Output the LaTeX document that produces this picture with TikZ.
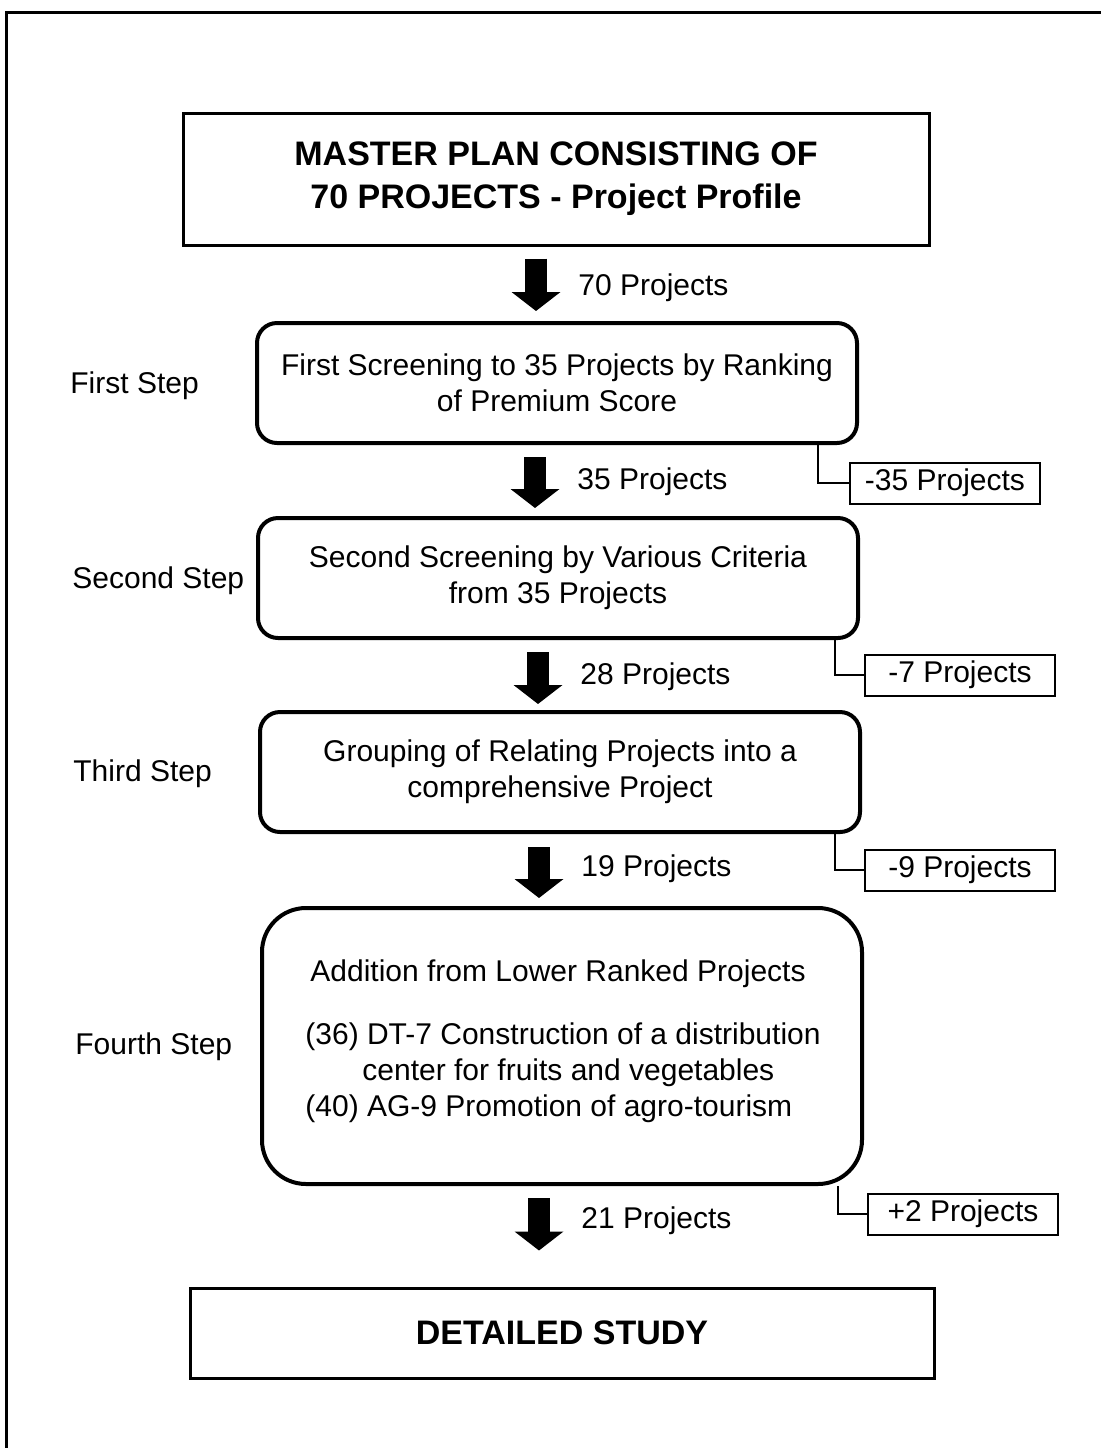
\documentclass[tikz,border=0pt]{standalone}
\usepackage{fontspec}
\setmainfont{Liberation Sans}
\usetikzlibrary{arrows.meta}

\begin{document}
\begin{tikzpicture}[x=0.5pt, y=-0.5pt, anchor=center, font=\fontsize{15}{18}\selectfont,
	cadre/.style={draw, line width=1.5pt, inner sep=0pt, align=center,
		font=\fontsize{17}{21.5}\selectfont\bfseries},
	etape/.style={draw, line width=2pt, rounded corners=10pt, inner sep=0pt,
		align=center, minimum width=300pt, minimum height=60pt},
	etiq/.style={draw, line width=1pt, inner sep=0pt, minimum width=95pt, minimum height=20.5pt},
	lien/.style={line width=1pt},
	grosse/.style={line width=11pt, -{Triangle[length=9.5pt, width=24pt]}}]

		\useasboundingbox (0,0) rectangle (1101,1448);

		\newcommand{\mkfleche}[7]{
			%fleche epaisse + nombre de projets
			\coordinate (f#3) at (#4,0);
			\draw[grosse, shorten <=#5pt, shorten >=#6pt] (#1.south -| f#3) -- (#2.north -| f#3);
			\node[anchor=west, inner sep=0pt] (f#3n) at (#4+42,#7) {#3 Projects};
		}

		\newcommand{\mkretrait}[6]{
			%etiquette de retrait
			\node[etiq] (#1) at (#4,#5) {#6};
			\coordinate (#1x) at (#3,0);
			\draw[lien] (#2.south -| #1x) |- (#1.west);
		}

		%cadre
		\draw[line width=1.5pt] (6,1448) -- (6,12) -- (1101,12);

		%boites
		\node[cadre, minimum width=373pt, minimum height=66pt] (plan) at (556,179)
			{MASTER PLAN CONSISTING OF\\70 PROJECTS - Project Profile};
		\node[etape] (e1) at (557,383) {First Screening to 35 Projects by Ranking\\of Premium Score};
		\node[etape] (e2) at (558,578) {Second Screening by Various Criteria\\from 35 Projects};
		\node[etape] (e3) at (560,772) {Grouping of Relating Projects into a\\comprehensive Project};
		\node[etape, rounded corners=22pt, minimum height=138pt] (e4) at (562,1046) {};
		\node[cadre, minimum width=372pt, minimum height=45pt] (etude) at (562,1333) {DETAILED STUDY};

		\node[inner sep=0pt] (e4t) at (558,974) {Addition from Lower Ranked Projects};
		\node[anchor=west, inner sep=0pt, align=left] (e4l) at (305,1073)
			{(36) DT-7 Construction of a distribution\\\hspace*{28.5pt}center for fruits and vegetables\\(40) AG-9 Promotion of agro-tourism};

		%noms des etapes
		\node[anchor=west, inner sep=0pt] (n1) at (70,386) {First Step};
		\node[anchor=west, inner sep=0pt] (n2) at (72,581) {Second Step};
		\node[anchor=west, inner sep=0pt] (n3) at (73,774) {Third Step};
		\node[anchor=west, inner sep=0pt] (n4) at (75,1047) {Fourth Step};

		%fleches
		\mkfleche{plan}{e1}{70}{536}{6}{5}{288}
		\mkfleche{e1}{e2}{35}{535}{6}{4}{482}
		\mkfleche{e2}{e3}{28}{538}{6}{3}{677}
		\mkfleche{e3}{e4}{19}{539}{6.5}{4}{869}
		\mkfleche{e4}{etude}{21}{539}{6}{18}{1221}

		%retraits
		\mkretrait{r1}{e1}{818}{945}{483}{-35 Projects}
		\mkretrait{r2}{e2}{835}{960}{675}{-7 Projects}
		\mkretrait{r3}{e3}{835}{960}{870}{-9 Projects}
		\mkretrait{r4}{e4}{838}{963}{1214}{+2 Projects}

\end{tikzpicture}
\end{document}
